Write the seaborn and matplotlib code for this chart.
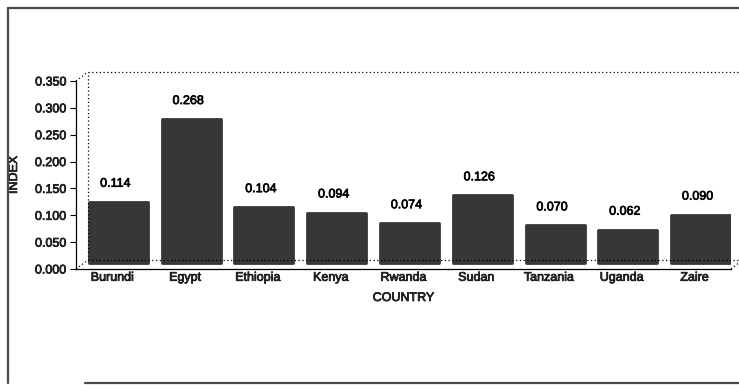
import matplotlib
matplotlib.use("Agg")
import matplotlib.pyplot as plt
import matplotlib.transforms as mtransforms
from matplotlib.lines import Line2D
import matplotlib.patheffects as pe
import seaborn as sns
import pandas as pd

countries = ["Burundi", "Egypt", "Ethiopia", "Kenya", "Rwanda",
             "Sudan", "Tanzania", "Uganda", "Zaire"]
index_values = [0.114, 0.268, 0.104, 0.094, 0.074, 0.126, 0.070, 0.062, 0.090]
y_ticks = [0.000, 0.050, 0.100, 0.150, 0.200, 0.250, 0.300, 0.350]

df = pd.DataFrame({"COUNTRY": countries, "INDEX": index_values})

sns.set_theme(style="white")
plt.rcParams["font.family"] = ["Liberation Sans", "DejaVu Sans"]
plt.rcParams["font.size"] = 9

W, H, DPI = 739, 385, 100
fig = plt.figure(figsize=(W / DPI, H / DPI), dpi=DPI)
fig.patch.set_facecolor("white")

# axes rectangle in pixels: front floor at y=269, 0.350 at y=81
x0, x1, yb, yt = 76, 731, 269, 81
ax = fig.add_axes([x0 / W, (H - yb) / H, (x1 - x0) / W, (yb - yt) / H])
ax.set_facecolor("none")

bar_color = "#373737"
sns.barplot(data=df, x="COUNTRY", y="INDEX", color=bar_color, width=0.81,
            saturation=1, ax=ax)

# bars sit slightly back in depth: shift right/up
depth = mtransforms.ScaledTranslation(6 / DPI, 6 / DPI, fig.dpi_scale_trans)
for p in ax.patches:
    p.set_transform(ax.transData + depth)
    p.set_edgecolor(bar_color)
    p.set_linewidth(2.0)
    p.set_joinstyle("round")

ax.set_xlim(-0.5, len(countries) - 0.5)
ax.set_ylim(0, 0.35)
ax.set_yticks(y_ticks)
ax.set_yticklabels([f"{t:.3f}" for t in y_ticks])

thick = [pe.withStroke(linewidth=0.5, foreground="black")]

for i, v in enumerate(index_values):
    ax.annotate(f"{v:.3f}", xy=(i, v), xytext=(3, 24), textcoords="offset pixels",
                ha="center", va="center", fontsize=9, color="black",
                path_effects=thick)

ax.set_xlabel("COUNTRY", fontsize=9, path_effects=thick)
ax.set_ylabel("INDEX", fontsize=9, path_effects=thick)
ax.yaxis.set_label_coords(-(x0 - 20) / (x1 - x0), 0.5)
ax.xaxis.set_label_coords(0.5, -(292 - yb) / (yb - yt))

for lab in ax.get_xticklabels() + ax.get_yticklabels():
    lab.set_path_effects(thick)
    lab.set_fontsize(9)

ax.tick_params(axis="y", which="both", left=True, length=4, width=0.8,
               color="black", pad=3)
ax.tick_params(axis="x", bottom=False, length=0, pad=2)

for s in ["top", "right"]:
    ax.spines[s].set_visible(False)
for s in ["left", "bottom"]:
    ax.spines[s].set_color("black")
    ax.spines[s].set_linewidth(0.9)

# back wall / floor, offset in depth
back = ax.transAxes + mtransforms.ScaledTranslation(12 / DPI, 9 / DPI, fig.dpi_scale_trans)
dot = dict(color="black", linewidth=0.9, linestyle=(0, (1, 2)), clip_on=False)
ax.add_line(Line2D([0, 0], [0, 1], transform=back, **dot))
ax.add_line(Line2D([0, 1.05], [1, 1], transform=back, **dot))
ax.add_line(Line2D([0, 1], [0, 0], transform=back, **dot))


def px(x, y):
    return (x / W, (H - y) / H)


# connecting diagonals
for (a, b) in [((76, 81), (88, 72)), ((76, 269), (88, 260)), ((731, 269), (740, 262))]:
    pa, pb = px(*a), px(*b)
    fig.add_artist(Line2D([pa[0], pb[0]], [pa[1], pb[1]], transform=fig.transFigure,
                          color="black", linewidth=0.9, linestyle=(0, (1, 2))))

# page frame
frame = dict(color="#4a4a4a", linewidth=1.6, transform=fig.transFigure)
fig.add_artist(Line2D([px(8, 0)[0]] * 2, [px(0, 8)[1], px(0, 383)[1]], **frame))
fig.add_artist(Line2D([px(8, 0)[0], 1], [px(0, 8)[1]] * 2, **frame))
fig.add_artist(Line2D([px(85, 0)[0], 1], [px(0, 383)[1]] * 2, **frame))

fig.savefig("out.png", dpi=DPI)
